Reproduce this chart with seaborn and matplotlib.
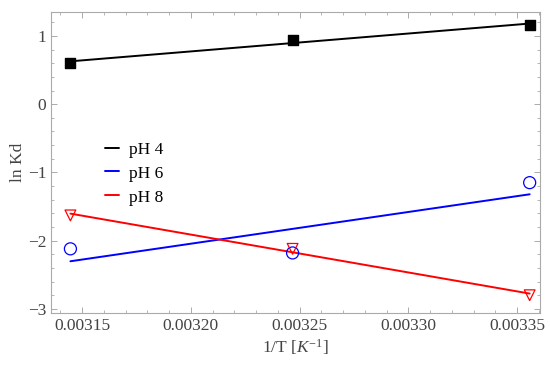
import matplotlib
matplotlib.use('Agg')
import matplotlib.pyplot as plt
from matplotlib.ticker import MultipleLocator, FormatStrFormatter
import seaborn as sns

# 1/T for T = 318, 308, 298 K
inv_T = [1 / 318, 1 / 308, 1 / 298]
ln_kd_ph4 = [0.605, 0.94, 1.16]
ln_kd_ph6 = [-2.12, -2.18, -1.15]
ln_kd_ph8 = [-1.63, -2.12, -2.80]
labels = ['pH 4', 'pH 6', 'pH 8']

sns.set_style('ticks')
plt.rcParams['font.family'] = ['Liberation Serif', 'DejaVu Serif']
plt.rcParams['mathtext.fontset'] = 'custom'
plt.rcParams['mathtext.it'] = 'Liberation Serif:italic'
plt.rcParams['mathtext.rm'] = 'Liberation Serif'

grey = '#444444'
fs = 12.5
fig = plt.figure(figsize=(5.5, 3.65), dpi=100)
ax = fig.add_axes([0.093, 0.1425, 0.889, 0.8245])

series = [
    (ln_kd_ph4, 'black', 's', dict(color='black', s=60)),
    (ln_kd_ph6, 'blue', 'o', dict(facecolors='none', edgecolors='blue', s=75, linewidths=0.9)),
    (ln_kd_ph8, 'red', 'v', dict(facecolors='none', edgecolors='red', s=60, linewidths=0.9)),
]
for (vals, col, mk, skw), lab in zip(series, labels):
    sns.regplot(x=inv_T, y=vals, ax=ax, ci=None, marker=mk, truncate=True,
                scatter_kws=dict(zorder=3, alpha=1, **skw),
                line_kws=dict(color=col, lw=1.4, label=lab))

ax.set_xlim(0.0031358, 0.0033605)
ax.set_ylim(-3.06, 1.35)
ax.xaxis.set_major_locator(MultipleLocator(0.00005))
ax.xaxis.set_minor_locator(MultipleLocator(0.00001))
ax.xaxis.set_major_formatter(FormatStrFormatter('%.5f'))
ax.yaxis.set_major_locator(MultipleLocator(1))
ax.yaxis.set_minor_locator(MultipleLocator(0.2))

for sp in ax.spines.values():
    sp.set_color('#aaaaaa')
    sp.set_linewidth(0.8)
ax.tick_params(which='both', direction='in', top=True, right=True, colors='#aaaaaa',
               labelcolor=grey, labelsize=fs)
ax.tick_params(which='major', length=4, width=0.7)
ax.tick_params(which='minor', length=2, width=0.6)

ax.set_xlabel('1/T [$K^{-1}$]', color=grey, fontsize=fs, labelpad=2)
ax.set_ylabel('ln Kd', color=grey, fontsize=fs, labelpad=1)

leg = ax.legend(loc='upper left', bbox_to_anchor=(0.078, 0.622), frameon=False,
                handlelength=0.8, handletextpad=0.6, labelspacing=0.45, fontsize=fs)
for t in leg.get_texts():
    t.set_color('black')

fig.savefig('out.png', dpi=100)
